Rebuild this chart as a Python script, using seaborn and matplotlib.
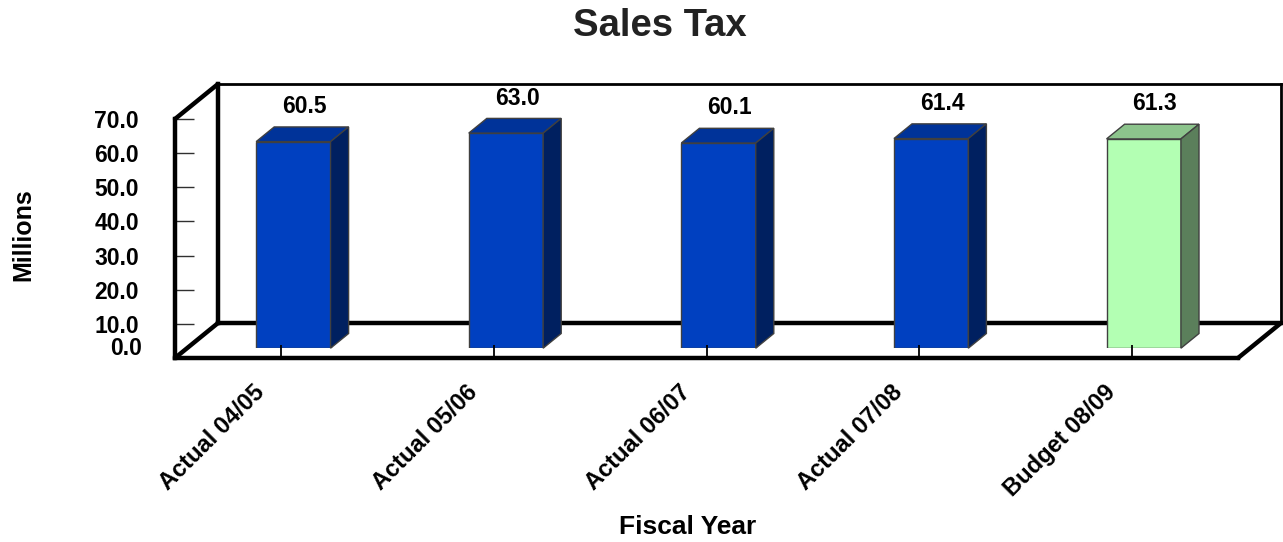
import matplotlib
matplotlib.use("Agg")
import matplotlib.pyplot as plt
import matplotlib.transforms as mtransforms
import seaborn as sns
import pandas as pd
from matplotlib.patches import Polygon

# ---- data ----
categories = ["Actual 04/05", "Actual 05/06", "Actual 06/07", "Actual 07/08", "Budget 08/09"]
values = [60.5, 63.0, 60.1, 61.4, 61.3]
kinds = ["Actual", "Actual", "Actual", "Actual", "Budget"]
y_ticks = [0, 10, 20, 30, 40, 50, 60, 70]

front_colors = {"Actual": "#0040C0", "Budget": "#B3FFB3"}
top_colors = {"Actual": "#003399", "Budget": "#8CC48C"}
side_colors = {"Actual": "#002060", "Budget": "#5B7F5B"}

df = pd.DataFrame({"year": categories, "value": values, "kind": kinds})

sns.set_style("white")
plt.rcParams["font.family"] = ["Liberation Sans", "DejaVu Sans"]
plt.rcParams["font.weight"] = "bold"
plt.rcParams["text.color"] = "black"
plt.rcParams["xtick.color"] = "black"
plt.rcParams["ytick.color"] = "black"
plt.rcParams["axes.edgecolor"] = "black"

W, H = 1283, 542
fig = plt.figure(figsize=(W / 100, H / 100), dpi=100)


def box(x0, y0, x1, y1):
    return [x0 / W, 1 - y1 / H, (x1 - x0) / W, (y1 - y0) / H]


# front plane of the 3D box (pixels)
FX0, FX1, FY_TOP, FY_BOT = 175, 1238, 119, 358
DX, DY = 43, 35            # depth of the box
BAR_OFF = 0.28             # bar front face position inside the depth
BAR_DEPTH = 0.42           # bar thickness as share of the depth

# background layer: back wall and floor back edge
ax_bg = fig.add_axes([0, 0, 1, 1], zorder=0)
ax_bg.set_xlim(0, W)
ax_bg.set_ylim(H, 0)
ax_bg.axis("off")
bx0, bx1, by0, by1 = FX0 + DX, FX1 + DX, FY_TOP - DY, FY_BOT - DY
ax_bg.plot([bx0, bx1], [by0, by0], color="black", lw=2, solid_capstyle="projecting")
ax_bg.plot([bx1, bx1], [by0, by1], color="black", lw=2, solid_capstyle="projecting")
ax_bg.plot([bx0, bx1], [by1, by1], color="black", lw=3.2, solid_capstyle="projecting")
ax_bg.plot([bx0, bx0], [by0, by1], color="black", lw=3.2, solid_capstyle="projecting")

# bar layer, shifted into the box depth
ox, oy = DX * BAR_OFF, DY * BAR_OFF
ax_bar = fig.add_axes(box(FX0 + ox, FY_TOP - oy, FX1 + ox, FY_BOT - oy), zorder=1)
ax_bar.patch.set_alpha(0)
sns.barplot(data=df, x="year", y="value", hue="kind", palette=front_colors,
            width=0.35, dodge=False, legend=False, ax=ax_bar,
            edgecolor="#404040", linewidth=1.0, saturation=1)
ax_bar.set_xlim(-0.5, len(categories) - 0.5)
ax_bar.set_ylim(0, 70)
ax_bar.axis("off")

# depth of the bars in data units
px_x = (FX1 - FX0) / len(categories)
px_y = (FY_BOT - FY_TOP) / 70.0
ddx = DX * BAR_DEPTH / px_x
ddy = DY * BAR_DEPTH / px_y

for patch, kind, val in zip(ax_bar.patches, kinds, values):
    x0 = patch.get_x()
    x1 = x0 + patch.get_width()
    h = patch.get_height()
    top = Polygon([(x0, h), (x1, h), (x1 + ddx, h + ddy), (x0 + ddx, h + ddy)],
                  closed=True, facecolor=top_colors[kind], edgecolor="#404040",
                  lw=1.0, clip_on=False)
    side = Polygon([(x1, 0), (x1 + ddx, ddy), (x1 + ddx, h + ddy), (x1, h)],
                   closed=True, facecolor=side_colors[kind], edgecolor="#404040",
                   lw=1.0, clip_on=False)
    ax_bar.add_patch(top)
    ax_bar.add_patch(side)
    ax_bar.annotate(f"{val:.1f}", xy=((x0 + x1) / 2 + ddx / 2, h + ddy),
                    xytext=(1.5, 10), textcoords="offset points",
                    ha="center", va="baseline", fontsize=16.5, fontweight="bold",
                    annotation_clip=False)

# front layer: axes, ticks and the front edges of the box
ax = fig.add_axes(box(FX0, FY_TOP, FX1, FY_BOT), zorder=2)
ax.patch.set_alpha(0)
ax.set_xlim(-0.5, len(categories) - 0.5)
ax.set_ylim(0, 70)
for s in ["top", "right"]:
    ax.spines[s].set_visible(False)
ax.spines["left"].set_linewidth(3.2)
ax.spines["bottom"].set_linewidth(3.2)
ax.spines["left"].set_capstyle("projecting")
ax.set_yticks(y_ticks)
ax.set_yticklabels([f"{t:.1f}" for t in y_ticks], fontsize=16.5, fontweight="bold")
ax.set_xticks(range(len(categories)))
ax.set_xticklabels(categories, rotation=45, ha="right", va="center",
                   rotation_mode="anchor", fontsize=17, fontweight="bold")
ax.tick_params(axis="y", left=True, direction="in", length=13.5, width=1,
               color="#303030", pad=26)
ax.tick_params(axis="x", bottom=True, direction="in", length=9.4, width=1.3,
               color="black", pad=22)
ax.set_xlabel("")
ax.set_ylabel("")

# nudge labels: x labels sit left of their ticks, the zero label sits raised
shift_x = mtransforms.ScaledTranslation(-20 / 100, 0, fig.dpi_scale_trans)
for lab in ax.get_xticklabels():
    lab.set_transform(lab.get_transform() + shift_x)
zero_shift = mtransforms.ScaledTranslation(3 / 100, 12 / 100, fig.dpi_scale_trans)
zero_lab = ax.get_yticklabels()[0]
zero_lab.set_transform(zero_lab.get_transform() + zero_shift)

# diagonal edges of the box
ax_fg = fig.add_axes([0, 0, 1, 1], zorder=3)
ax_fg.set_xlim(0, W)
ax_fg.set_ylim(H, 0)
ax_fg.axis("off")
ax_fg.patch.set_alpha(0)
ax_fg.plot([FX0, bx0], [FY_TOP, by0], color="black", lw=3.2, solid_capstyle="round")
ax_fg.plot([FX0, bx0], [FY_BOT, by1], color="black", lw=3.2, solid_capstyle="round")
ax_fg.plot([FX1, bx1], [FY_BOT, by1], color="black", lw=3.2, solid_capstyle="round")

fig.text(660 / W, 1 - 26 / H, "Sales Tax", ha="center", va="center",
         fontsize=27.5, fontweight="bold", color="#222222")
fig.text(688 / W, 1 - 527 / H, "Fiscal Year", ha="center", va="center",
         fontsize=19, fontweight="bold")
fig.text(23 / W, 1 - 235 / H, "Millions", ha="center", va="center",
         rotation=90, fontsize=18, fontweight="bold")

fig.savefig("out.png", dpi=100)
